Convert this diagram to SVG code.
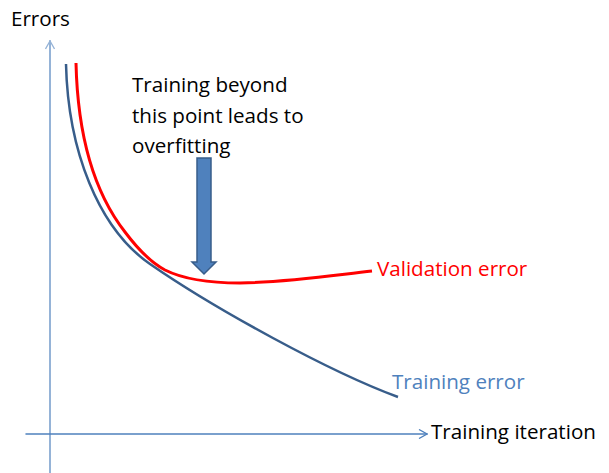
<svg xmlns="http://www.w3.org/2000/svg" width="609" height="473" viewBox="0 0 609 473">
<style>
text{font-family:"Open Sans","Liberation Sans",sans-serif;font-size:20.6px}
.axis{fill:none;stroke-linecap:round}
</style>
<defs>
<marker id="chev" viewBox="0 0 10 10" refX="9" refY="5" markerWidth="10" markerHeight="10" markerUnits="userSpaceOnUse" orient="auto">
<path d="M1,0.5 L9,5 L1,9.5" fill="none" stroke="context-stroke" stroke-width="1.3"/>
</marker>
</defs>
<rect width="609" height="473" fill="#fff"/>
<g id="axes">
<line class="axis" x1="50" y1="473" x2="50" y2="41" stroke="#95B3D7" stroke-width="2" marker-end="url(#chev)"/>
<line class="axis" x1="26" y1="434" x2="427" y2="434" stroke="#4F81BD" stroke-width="1.5" marker-end="url(#chev)"/>
</g>
<g id="curves">
<path id="training-curve" d="M66,64 C68,150 98,228 150,264 C215,309 330,372 398,397" fill="none" stroke="#385D8A" stroke-width="2.5"/>
<path id="validation-curve" d="M76,63 C78,150 100,200 125,232 C137,248 150,262 165,270 C185,280 210,283 240,283 C290,282 335,275 372,271" fill="none" stroke="#FF0000" stroke-width="3"/>
</g>
<g id="overfit-arrow">
<path d="M197,158 H211 V262 H216 L204,274 L192,262 H197 Z" fill="#4F81BD" stroke="#385D8A" stroke-width="1.5" stroke-linejoin="miter"/>
</g>
<g id="labels">
<text x="11" y="26" fill="#000">Errors</text>
<text fill="#000"><tspan x="132" y="92">Training beyond</tspan><tspan x="132" y="123">this point leads to</tspan><tspan x="132" y="153">overfitting</tspan></text>
<text x="377" y="276" fill="#FF0000">Validation error</text>
<text x="392" y="389" fill="#4F81BD">Training error</text>
<text x="431" y="439" fill="#000">Training iteration</text>
</g>
</svg>
